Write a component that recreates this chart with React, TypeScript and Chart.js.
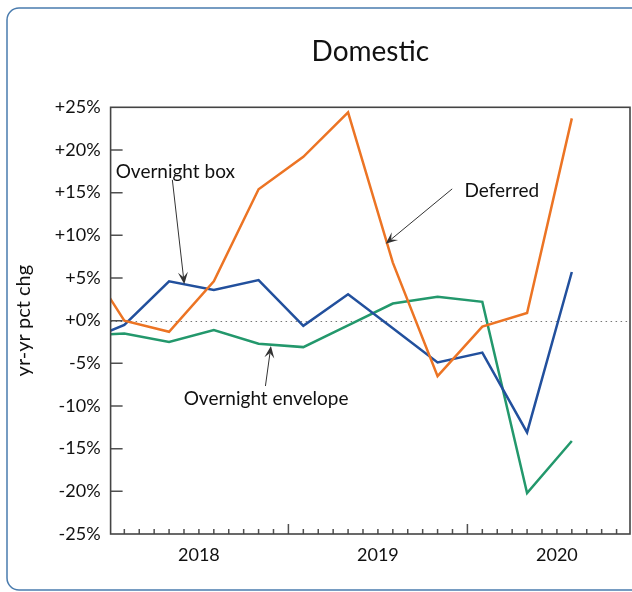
import React, { useEffect, useRef } from 'react';
import { Chart, registerables } from 'chart.js';

Chart.register(...registerables);

// Months counted from January 2018 (quarterly observations)
const months = [-2, 1, 4, 7, 10, 13, 16, 19, 22, 25, 28, 31];
const deferred = [8.2, 0.0, -1.3, 4.6, 15.4, 19.2, 24.4, 6.8, -6.5, -0.7, 0.9, 23.7];
const overnightBox = [-2.7, -0.5, 4.6, 3.6, 4.75, -0.6, 3.1, -0.9, -4.9, -3.75, -13.1, 5.7];
const overnightEnvelope = [-1.75, -1.5, -2.5, -1.1, -2.7, -3.1, -0.55, 2.0, 2.8, 2.2, -20.2, -14.1];

const yearLabels = ['2018', '2019', '2020'];
const yearLabelMonths = [6, 18, 30];
const yearBoundaryMonths = [12, 24];
const monthTicks = [1, 2, 3, 4, 5, 6, 7, 8, 9, 10, 11, 13, 14, 15, 16, 17, 18, 19, 20, 21, 22, 23, 25, 26, 27, 28, 29, 30, 31, 32, 33, 34];
const yTickValues = [-25, -20, -15, -10, -5, 0, 5, 10, 15, 20, 25];
const yInnerTicks = [-20, -15, -10, -5, 0, 5, 10, 15, 20];

const annotations = [
  { text: 'Overnight box', textX: 0.42, textY: 17.45, tailX: 4.22, tailY: 16.5, tipX: 5.02, tipY: 4.27 },
  { text: 'Deferred', textX: 23.8, textY: 15.24, tailX: 22.98, tailY: 15.44, tipX: 18.52, tipY: 9.0 },
  { text: 'Overnight envelope', textX: 4.98, textY: -9.18, tailX: 10.46, tailY: -7.66, tipX: 10.83, tipY: -2.97 },
];

const FONT = 'Lato';

const decorPlugin = {
  id: 'decor',
  beforeDraw(chart: any) {
    const ctx = chart.ctx;
    ctx.save();
    ctx.strokeStyle = '#4a7cae';
    ctx.lineWidth = 1.5;
    const x0 = 7, y0 = 8, x1 = 650, y1 = 590, r = 12;
    ctx.beginPath();
    ctx.moveTo(x0 + r, y0);
    ctx.lineTo(x1, y0);
    ctx.moveTo(x1, y1);
    ctx.lineTo(x0 + r, y1);
    ctx.arcTo(x0, y1, x0, y1 - r, r);
    ctx.lineTo(x0, y0 + r);
    ctx.arcTo(x0, y0, x0 + r, y0, r);
    ctx.stroke();
    ctx.restore();
  },
  beforeDatasetsDraw(chart: any) {
    const { ctx, chartArea, scales } = chart;
    const y0 = scales.y.getPixelForValue(0);
    ctx.save();
    ctx.strokeStyle = '#777';
    ctx.lineWidth = 1;
    ctx.setLineDash([1.5, 3.5]);
    ctx.beginPath();
    ctx.moveTo(chartArea.left, Math.round(y0) + 0.5);
    ctx.lineTo(chartArea.right, Math.round(y0) + 0.5);
    ctx.stroke();
    ctx.restore();
  },
  afterDatasetsDraw(chart: any) {
    const { ctx, chartArea, scales } = chart;
    const { left, right, top, bottom } = chartArea;
    ctx.save();
    ctx.strokeStyle = '#505050';
    ctx.lineWidth = 1.5;
    ctx.beginPath();
    monthTicks.forEach((m) => {
      const x = scales.x.getPixelForValue(m);
      ctx.moveTo(x, bottom);
      ctx.lineTo(x, bottom - 5);
    });
    yearBoundaryMonths.forEach((m) => {
      const x = scales.x.getPixelForValue(m);
      ctx.moveTo(x, bottom);
      ctx.lineTo(x, bottom - 10);
    });
    yInnerTicks.forEach((v) => {
      const y = scales.y.getPixelForValue(v);
      ctx.moveTo(left, y);
      ctx.lineTo(left + 12, y);
    });
    ctx.stroke();
    ctx.strokeStyle = '#444';
    ctx.lineWidth = 1.6;
    ctx.strokeRect(left, top, right - left, bottom - top);
    ctx.restore();
  },
  afterDraw(chart: any) {
    const { ctx, scales } = chart;
    ctx.save();
    ctx.font = `19px ${FONT}`;
    ctx.fillStyle = '#111';
    ctx.textAlign = 'left';
    ctx.textBaseline = 'middle';
    annotations.forEach((a) => {
      const tx = scales.x.getPixelForValue(a.textX);
      const ty = scales.y.getPixelForValue(a.textY);
      ctx.fillText(a.text, tx, ty);
      const x1 = scales.x.getPixelForValue(a.tailX);
      const y1 = scales.y.getPixelForValue(a.tailY);
      const x2 = scales.x.getPixelForValue(a.tipX);
      const y2 = scales.y.getPixelForValue(a.tipY);
      const ang = Math.atan2(y2 - y1, x2 - x1);
      const headLen = 12;
      const headW = 5;
      const notch = 7;
      ctx.strokeStyle = '#333';
      ctx.lineWidth = 1;
      ctx.beginPath();
      ctx.moveTo(x1, y1);
      ctx.lineTo(x2 - Math.cos(ang) * notch, y2 - Math.sin(ang) * notch);
      ctx.stroke();
      const bx = x2 - Math.cos(ang) * headLen;
      const by = y2 - Math.sin(ang) * headLen;
      const nx = -Math.sin(ang);
      const ny = Math.cos(ang);
      ctx.fillStyle = '#333';
      ctx.beginPath();
      ctx.moveTo(x2, y2);
      ctx.lineTo(bx + nx * headW, by + ny * headW);
      ctx.lineTo(x2 - Math.cos(ang) * notch, y2 - Math.sin(ang) * notch);
      ctx.lineTo(bx - nx * headW, by - ny * headW);
      ctx.closePath();
      ctx.fill();
      ctx.fillStyle = '#111';
    });
    ctx.restore();
  },
};

const toPoints = (vals: number[]) => vals.map((v, i) => ({ x: months[i], y: v }));

export default function App() {
  const canvasRef = useRef<HTMLCanvasElement | null>(null);

  useEffect(() => {
    document.body.style.margin = '0';
    const canvas = canvasRef.current;
    if (!canvas) return;
    const chart = new Chart(canvas, {
      type: 'line',
      data: {
        datasets: [
          { label: 'Deferred', data: toPoints(deferred), borderColor: '#ec7424', borderWidth: 2.5, pointRadius: 0, tension: 0, clip: 0 },
          { label: 'Overnight box', data: toPoints(overnightBox), borderColor: '#22509d', borderWidth: 2.5, pointRadius: 0, tension: 0, clip: 0 },
          { label: 'Overnight envelope', data: toPoints(overnightEnvelope), borderColor: '#23986c', borderWidth: 2.5, pointRadius: 0, tension: 0, clip: 0 },
        ],
      },
      options: {
        responsive: false,
        animation: false,
        devicePixelRatio: 1,
        layout: { padding: { top: 0, right: 2, left: 0, bottom: 0 } },
        plugins: {
          legend: { display: false },
          tooltip: { enabled: false },
          title: {
            display: true,
            text: 'Domestic',
            fullSize: false,
            color: '#111',
            font: { family: FONT, size: 28, weight: 'normal' },
            padding: { top: 35, bottom: 38.7 },
          },
        },
        scales: {
          x: {
            type: 'linear',
            min: 0.08,
            max: 34.9,
            afterBuildTicks: (s: any) => {
              s.ticks = yearLabelMonths.map((v) => ({ value: v }));
            },
            ticks: {
              callback: (_v: any, i: number) => yearLabels[i],
              font: { family: FONT, size: 18 },
              color: '#111',
              padding: 10,
              maxRotation: 0,
              autoSkip: false,
            },
            grid: { display: false, drawTicks: false },
            border: { display: false },
            afterFit: (s: any) => {
              s.height = 58;
            },
          },
          y: {
            type: 'linear',
            min: -25,
            max: 25,
            afterBuildTicks: (s: any) => {
              s.ticks = yTickValues.map((v) => ({ value: v }));
            },
            ticks: {
              callback: (v: any) => (v >= 0 ? '+' : '') + v + '%',
              font: { family: FONT, size: 18 },
              color: '#111',
              padding: 10,
            },
            grid: { display: false, drawTicks: false },
            border: { display: false },
            title: {
              display: true,
              text: 'yr-yr pct chg',
              color: '#111',
              font: { family: FONT, size: 20 },
              padding: { top: 12, bottom: 0 },
            },
            afterFit: (s: any) => {
              s.width = 110.6;
            },
          },
        },
      },
      plugins: [decorPlugin],
    });
    return () => chart.destroy();
  }, []);

  return (
    <div style={{ position: 'fixed', left: 0, top: 0, width: 632, height: 592, background: '#fff' }}>
      <canvas ref={canvasRef} width={632} height={592} style={{ width: 632, height: 592, display: 'block' }} />
    </div>
  );
}
